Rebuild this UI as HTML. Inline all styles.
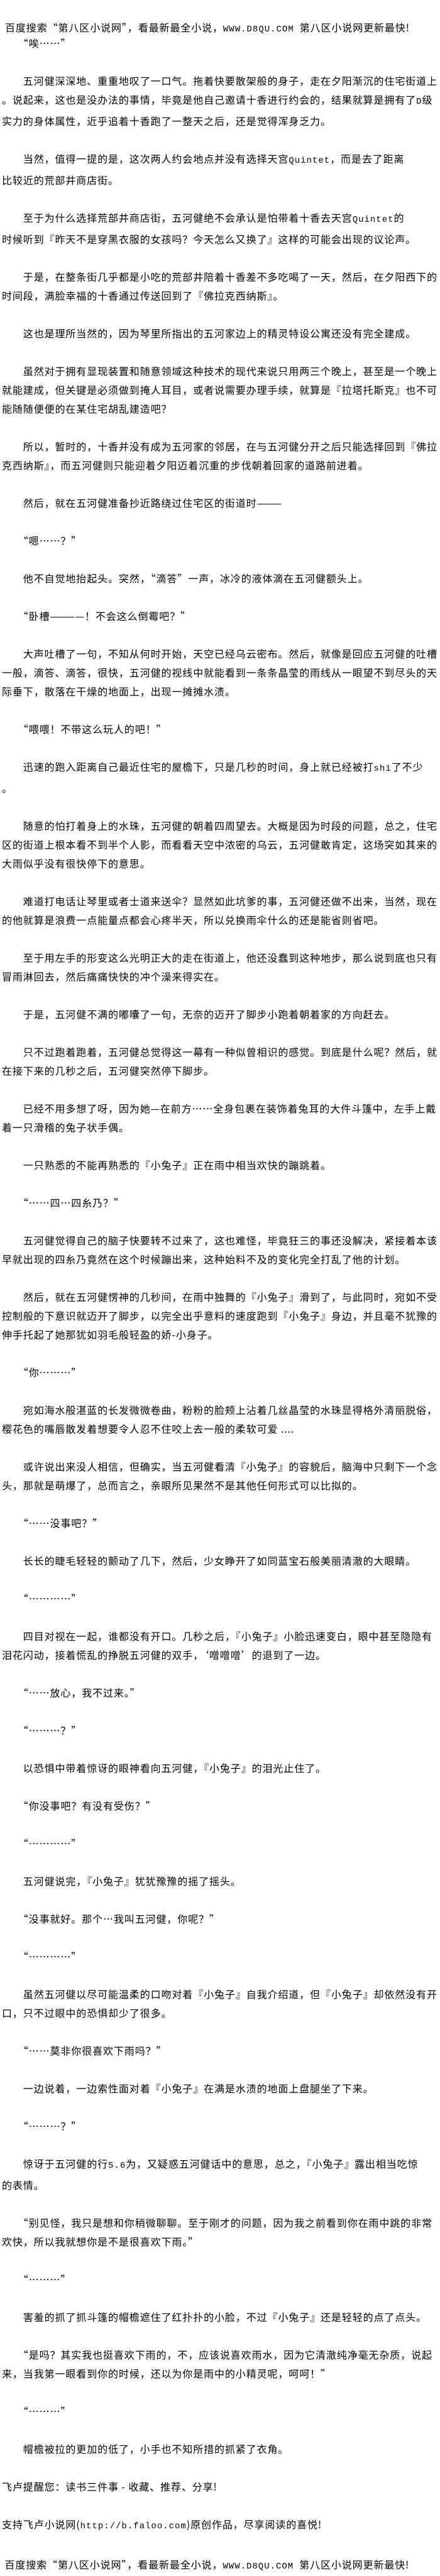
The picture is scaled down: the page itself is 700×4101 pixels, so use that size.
<!DOCTYPE html>
<html><head><meta charset="utf-8">
<style>
html,body{margin:0;padding:0;background:#fff;}
body{width:700px;height:4100px;position:relative;overflow:hidden;color:#000;
font-family:"Liberation Sans","WenQuanYi Zen Hei","Noto Sans CJK SC",sans-serif;}
.t{position:absolute;left:3px;margin:0;font-size:16px;letter-spacing:0.9px;line-height:30px;white-space:pre;
font-family:"WenQuanYi Zen Hei","Noto Sans CJK SC",sans-serif;}
.m{font-family:"Liberation Mono",monospace;font-size:14px;letter-spacing:1px;}
</style></head><body>
<div class="t" style="top:28px;left:8px">百度搜索“第八区小说网”，看最新最全小说，<span class="m">WWW.D8QU.COM</span>  第八区小说网更新最快!</div>
<pre class="t" style="top:53px">　　“唉……”

　　五河健深深地、重重地叹了一口气。拖着快要散架般的身子，走在夕阳渐沉的住宅街道上
。说起来，这也是没办法的事情，毕竟是他自己邀请十香进行约会的，结果就算是拥有了<span class="m">D</span>级
实力的身体属性，近乎追着十香跑了一整天之后，还是觉得浑身乏力。

　　当然，值得一提的是，这次两人约会地点并没有选择天宫<span class="m">Quintet</span>，而是去了距离
比较近的荒部井商店街。

　　至于为什么选择荒部井商店街，五河健绝不会承认是怕带着十香去天宫<span class="m">Quintet</span>的
时候听到『昨天不是穿黑衣服的女孩吗？今天怎么又换了』这样的可能会出现的议论声。

　　于是，在整条街几乎都是小吃的荒部井陪着十香差不多吃喝了一天，然后，在夕阳西下的
时间段，满脸幸福的十香通过传送回到了『佛拉克西纳斯』。

　　这也是理所当然的，因为琴里所指出的五河家边上的精灵特设公寓还没有完全建成。

　　虽然对于拥有显现装置和随意领域这种技术的现代来说只用两三个晚上，甚至是一个晚上
就能建成，但关键是必须做到掩人耳目，或者说需要办理手续，就算是『拉塔托斯克』也不可
能随随便便的在某住宅胡乱建造吧？

　　所以，暂时的，十香并没有成为五河家的邻居，在与五河健分开之后只能选择回到『佛拉
克西纳斯』，而五河健则只能迎着夕阳迈着沉重的步伐朝着回家的道路前进着。

　　然后，就在五河健准备抄近路绕过住宅区的街道时———

　　“嗯……？”

　　他不自觉地抬起头。突然，“滴答”一声，冰冷的液体滴在五河健额头上。

　　“卧槽————！不会这么倒霉吧？”

　　大声吐槽了一句，不知从何时开始，天空已经乌云密布。然后，就像是回应五河健的吐槽
一般，滴答、滴答，很快，五河健的视线中就能看到一条条晶莹的雨线从一眼望不到尽头的天
际垂下，散落在干燥的地面上，出现一摊摊水渍。

　　“喂喂！不带这么玩人的吧！”

　　迅速的跑入距离自己最近住宅的屋檐下，只是几秒的时间，身上就已经被打<span class="m">shi</span>了不少
。

　　随意的怕打着身上的水珠，五河健的朝着四周望去。大概是因为时段的问题，总之，住宅
区的街道上根本看不到半个人影，而看看天空中浓密的乌云，五河健敢肯定，这场突如其来的
大雨似乎没有很快停下的意思。

　　难道打电话让琴里或者士道来送伞？显然如此坑爹的事，五河健还做不出来，当然，现在
的他就算是浪费一点能量点都会心疼半天，所以兑换雨伞什么的还是能省则省吧。

　　至于用左手的形变这么光明正大的走在街道上，他还没蠢到这种地步，那么说到底也只有
冒雨淋回去，然后痛痛快快的冲个澡来得实在。

　　于是，五河健不满的嘟囔了一句，无奈的迈开了脚步小跑着朝着家的方向赶去。

　　只不过跑着跑着，五河健总觉得这一幕有一种似曾相识的感觉。到底是什么呢？然后，就
在接下来的几秒之后，五河健突然停下脚步。

　　已经不用多想了呀，因为她—在前方……全身包裹在装饰着兔耳的大件斗篷中，左手上戴
着一只滑稽的兔子状手偶。

　　一只熟悉的不能再熟悉的『小兔子』正在雨中相当欢快的蹦跳着。

　　“……四…四糸乃？”

　　五河健觉得自己的脑子快要转不过来了，这也难怪，毕竟狂三的事还没解决，紧接着本该
早就出现的四糸乃竟然在这个时候蹦出来，这种始料不及的变化完全打乱了他的计划。

　　然后，就在五河健愣神的几秒间，在雨中独舞的『小兔子』滑到了，与此同时，宛如不受
控制般的下意识就迈开了脚步，以完全出乎意料的速度跑到『小兔子』身边，并且毫不犹豫的
伸手托起了她那犹如羽毛般轻盈的娇-小身子。

　　“你………”

　　宛如海水般湛蓝的长发微微卷曲，粉粉的脸颊上沾着几丝晶莹的水珠显得格外清丽脱俗，
樱花色的嘴唇散发着想要令人忍不住咬上去一般的柔软可爱 ....

　　或许说出来没人相信，但确实，当五河健看清『小兔子』的容貌后，脑海中只剩下一个念
头，那就是萌爆了，总而言之，亲眼所见果然不是其他任何形式可以比拟的。

　　“……没事吧？”

　　长长的睫毛轻轻的颤动了几下，然后，少女睁开了如同蓝宝石般美丽清澈的大眼睛。

　　“…………”

　　四目对视在一起，谁都没有开口。几秒之后，『小兔子』小脸迅速变白，眼中甚至隐隐有
泪花闪动，接着慌乱的挣脱五河健的双手，‘噌噌噌’的退到了一边。

　　“……放心，我不过来。”

　　“………？”

　　以恐惧中带着惊讶的眼神看向五河健，『小兔子』的泪光止住了。

　　“你没事吧？有没有受伤？”

　　“…………”

　　五河健说完，『小兔子』犹犹豫豫的摇了摇头。

　　“没事就好。那个…我叫五河健，你呢？”

　　“…………”

　　虽然五河健以尽可能温柔的口吻对着『小兔子』自我介绍道，但『小兔子』却依然没有开
口，只不过眼中的恐惧却少了很多。

　　“……莫非你很喜欢下雨吗？”

　　一边说着，一边索性面对着『小兔子』在满是水渍的地面上盘腿坐了下来。

　　“………？”

　　惊讶于五河健的行<span class="m">5.6</span>为，又疑惑五河健话中的意思，总之，『小兔子』露出相当吃惊
的表情。

　　“别见怪，我只是想和你稍微聊聊。至于刚才的问题，因为我之前看到你在雨中跳的非常
欢快，所以我就想你是不是很喜欢下雨。”

　　“………”

　　害羞的抓了抓斗篷的帽檐遮住了红扑扑的小脸，不过『小兔子』还是轻轻的点了点头。

　　“是吗？其实我也挺喜欢下雨的，不，应该说喜欢雨水，因为它清澈纯净毫无杂质，说起
来，当我第一眼看到你的时候，还以为你是雨中的小精灵呢，呵呵！”

　　“………”

　　帽檐被拉的更加的低了，小手也不知所措的抓紧了衣角。

飞卢提醒您：读书三件事 - 收藏、推荐、分享!

支持飞卢小说网(<span class="m">http://b.faloo.com</span>)原创作品，尽享阅读的喜悦!

 百度搜索“第八区小说网”，看最新最全小说，<span class="m">WWW.D8QU.COM</span>  第八区小说网更新最快!</pre>
</body></html>
